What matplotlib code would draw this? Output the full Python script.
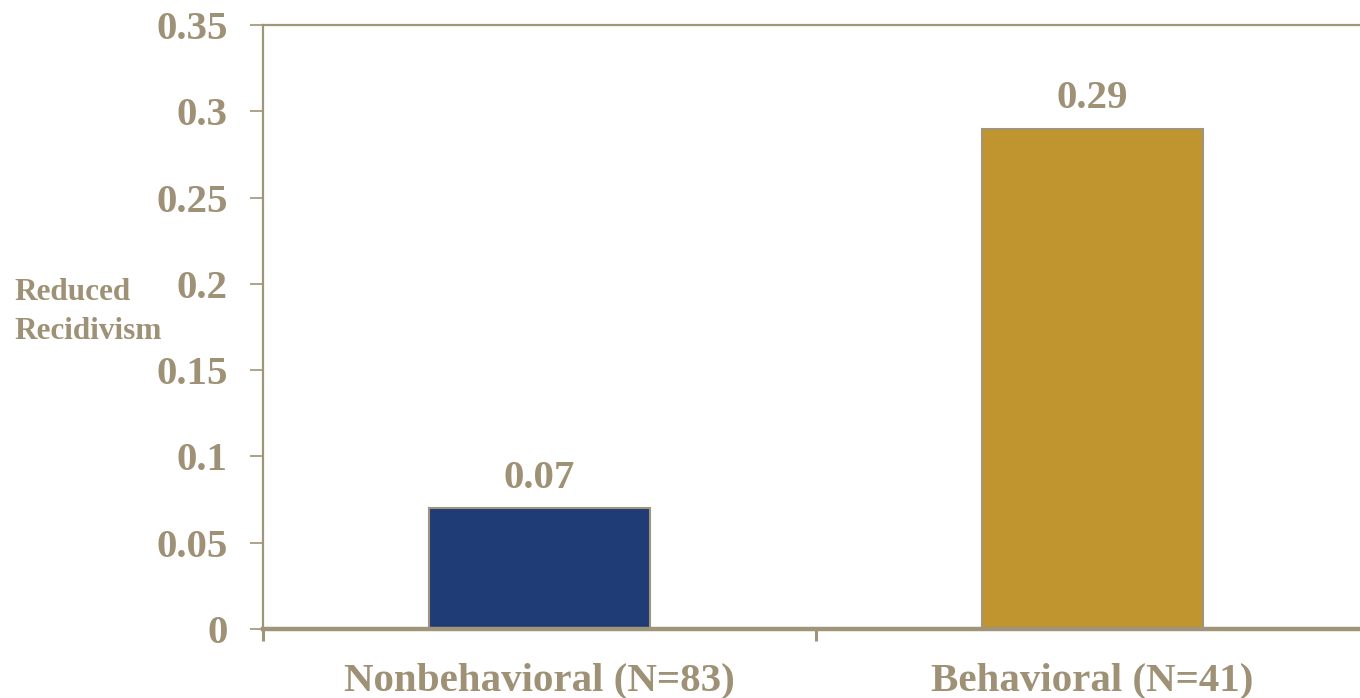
import matplotlib
matplotlib.use("Agg")
import matplotlib.pyplot as plt

# Data
categories = ["Nonbehavioral (N=83)", "Behavioral (N=41)"]
values = [0.07, 0.29]
bar_colors = ["#1F3C77", "#C09530"]
y_ticks = [0, 0.05, 0.1, 0.15, 0.2, 0.25, 0.3, 0.35]
y_tick_labels = ["0", "0.05", "0.1", "0.15", "0.2", "0.25", "0.3", "0.35"]

text_color = "#9E9176"
line_color = "#A09479"
font = "Liberation Serif"

fig = plt.figure(figsize=(13.6, 6.98), dpi=100)
ax = fig.add_axes([263 / 1360, 69 / 698, 1106 / 1360, 604 / 698])

x = list(range(len(categories)))
bars = ax.bar(x, values, width=0.4, color=bar_colors, edgecolor=line_color,
              linewidth=1.5, zorder=2)

for xi, v in zip(x, values):
    ax.annotate(f"{v:.2f}", (xi, v), xytext=(0, 8), textcoords="offset points",
                ha="center", va="bottom", fontsize=29.5, fontweight="bold",
                family=font, color=text_color)

ax.set_xlim(-0.5, 1.5)
ax.set_ylim(0, 0.35)

ax.set_yticks(y_ticks)
ax.set_yticklabels(y_tick_labels)
ax.set_xticks(x)
ax.set_xticklabels(categories)
ax.set_xticks([-0.5, 0.5, 1.5], minor=True)

ax.tick_params(axis="y", direction="out", length=9.5, width=1.2, color=line_color,
               pad=16, labelsize=29.5, labelcolor=text_color)
ax.tick_params(axis="x", which="major", length=0, pad=24, labelsize=29.5,
               labelcolor=text_color)
ax.tick_params(axis="x", which="minor", direction="out", length=8.5, width=2.2,
               color=line_color)
for lbl in ax.get_xticklabels() + ax.get_yticklabels():
    lbl.set_family(font)
    lbl.set_fontweight("bold")

ax.spines["left"].set_color(line_color)
ax.spines["left"].set_linewidth(1.6)
ax.spines["top"].set_color(line_color)
ax.spines["top"].set_linewidth(1.6)
ax.spines["bottom"].set_color(line_color)
ax.spines["bottom"].set_linewidth(3.2)
ax.spines["bottom"].set_zorder(3)
ax.spines["right"].set_visible(False)

fig.text(14 / 1360, 1 - 312 / 698, "Reduced\nRecidivism", ha="left", va="center",
         fontsize=22.5, fontweight="bold", family=font, color=text_color,
         linespacing=1.45)

fig.savefig("out.png", dpi=100)
